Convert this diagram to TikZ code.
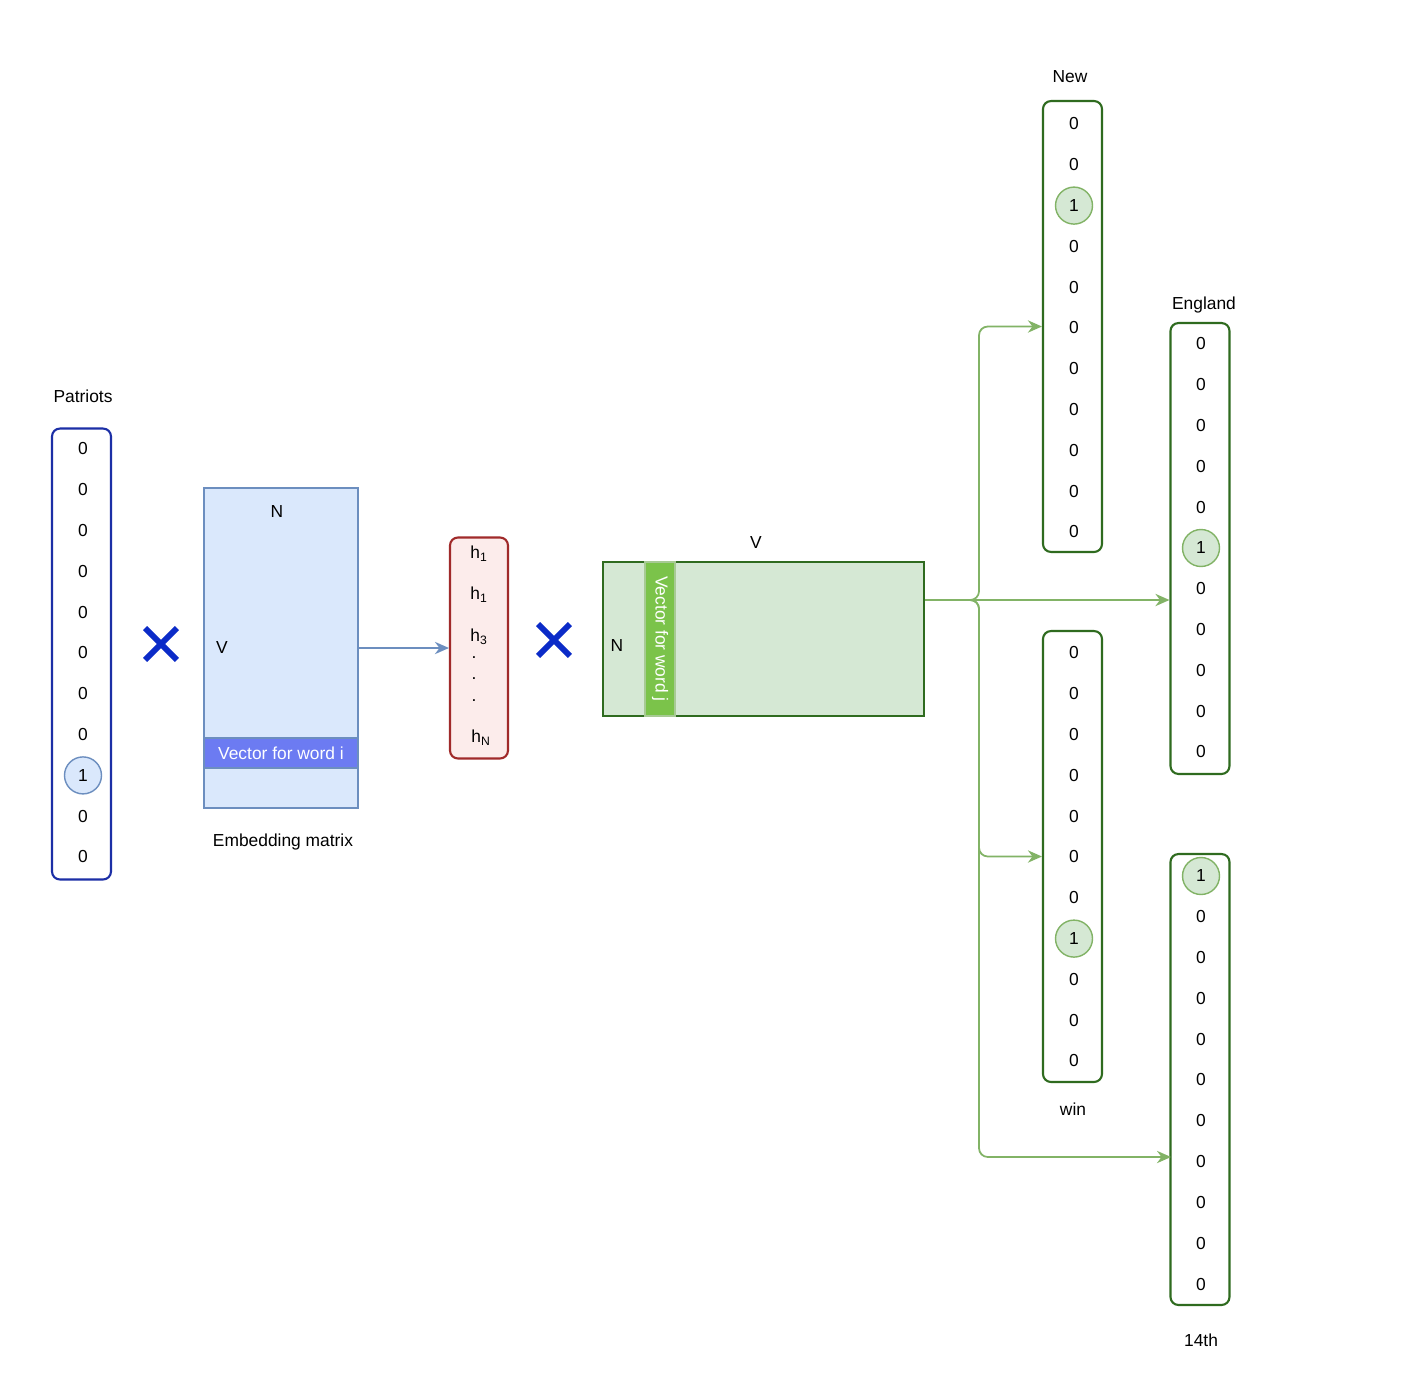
\documentclass[tikz,border=0pt]{standalone}
\usepackage{fontspec}
\setmainfont{Liberation Sans}
\usetikzlibrary{arrows.meta,positioning,shapes.misc}

\definecolor{patblue}{HTML}{1C2FA6}
\definecolor{xblue}{HTML}{0B2BC8}
\definecolor{embfill}{HTML}{DAE8FC}
\definecolor{embline}{HTML}{6C8EBF}
\definecolor{bandblue}{HTML}{6C7BF2}
\definecolor{hfill}{HTML}{FCECEB}
\definecolor{hline}{HTML}{A02A2A}
\definecolor{outfill}{HTML}{D5E8D4}
\definecolor{outgreen}{HTML}{2F6B1F}
\definecolor{bandgreen}{HTML}{7BC34A}
\definecolor{flowgreen}{HTML}{82B366}

\tikzset{
  vec/.style={draw, rounded corners=4.5pt, line width=1.2pt, minimum width=1.18cm, minimum height=9.02cm, inner sep=0pt},
  val/.style={inner sep=1pt},
  bluehot/.style={circle, draw=embline, fill=embfill, line width=0.8pt, minimum size=0.74cm, inner sep=0pt},
  greenhot/.style={circle, draw=flowgreen, fill=outfill, line width=0.8pt, minimum size=0.74cm, inner sep=0pt},
  timesmark/.style={cross out, draw=xblue, line width=3.3pt, minimum size=0.52cm, inner sep=0pt},
  flow/.style={->, draw=flowgreen, line width=1pt, rounded corners=5pt},
}

% one-hot vector: name, x, first y, index of the 1, style of the 1
\newcommand{\hotvec}[5]{%
  \foreach \i in {0,...,10} {
    \ifnum\i=#4\relax
      \node[#5] (#1-\i) at (#2,#3+40.8*\i) {1};
    \else
      \node[val] (#1-\i) at (#2,#3+40.8*\i) {0};
    \fi
  }%
}

\begin{document}
\begin{tikzpicture}[>={Stealth[length=8pt,width=7pt]}, thick, x=0.02cm, y=-0.02cm,
    font=\fontsize{9.9pt}{12pt}\selectfont]
    \fill[white] (0,0) rectangle (1426,1382);
    \useasboundingbox (0,0) rectangle (1426,1382);

    % input word
    \node[vec, draw=patblue] (pat) at (81.5,654) {};
    \node (patlabel) at (83,396) {Patriots};
    \hotvec{p}{83}{449}{8}{bluehot}

    \node[timesmark] (times1) at (161,644) {};

    % embedding matrix
    \node[draw=embline, fill=embfill, line width=1.2pt, minimum width=3.08cm, minimum height=6.4cm, inner sep=0pt] (emb) at (281,648) {};
    \node[draw=embline, fill=bandblue, text=white, line width=1.2pt, minimum width=3.08cm, minimum height=0.6cm, inner sep=0pt] (rowi) at (281,753) {Vector for word i};
    \node (embN) at (277,512) {N};
    \node (embV) at (222,648) {V};
    \node (emblabel) at (283,842) {Embedding matrix};

    % hidden vector
    \node[draw=hline, fill=hfill, rounded corners=4.5pt, line width=1.2pt, minimum width=1.16cm, minimum height=4.42cm, inner sep=0pt] (hvec) at (479,648) {};
    \node (h1) at (479,554) {h\textsubscript{1}};
    \node (h2) at (479,595) {h\textsubscript{1}};
    \node (h3) at (479,637) {h\textsubscript{3}};
    \foreach \y [count=\k] in {658,679,701}
        \node[inner sep=0pt] (dot\k) at (474,\y) {.};
    \node (hN) at (481,738) {h\textsubscript{N}};

    \draw[->, draw=embline, line width=1pt] (emb.east) -- (hvec.west);

    \node[timesmark] (times2) at (554,640) {};

    % context matrix
    \node[draw=outgreen, fill=outfill, line width=1.2pt, minimum width=6.42cm, minimum height=3.08cm, inner sep=0pt] (outm) at (763.5,639) {};
    \node[draw=flowgreen!70, fill=bandgreen, line width=1pt, minimum width=0.6cm, minimum height=3.08cm, inner sep=0pt] (colj) at (660,639) {};
    \node[text=white, rotate=-90] (coljtext) at (660,639) {Vector for word j};
    \node (outV) at (756,543) {V};
    \node (outN) at (617,646) {N};

    % output words
    \node[vec, draw=outgreen] (new) at (1072.5,326.5) {};
    \node (newlabel) at (1070,77) {New};
    \hotvec{n}{1074}{124}{2}{greenhot}

    \node[vec, draw=outgreen] (eng) at (1200,548.5) {};
    \node (englabel) at (1204,305) {England};
    \hotvec{e}{1201}{344}{5}{greenhot}

    \node[vec, draw=outgreen] (win) at (1072.5,856.5) {};
    \node (winlabel) at (1073,1109) {win};
    \hotvec{w}{1074}{653}{7}{greenhot}

    \node[vec, draw=outgreen] (last) at (1200,1079.5) {};
    \node (lastlabel) at (1201,1340) {14th};
    \hotvec{l}{1201}{876}{0}{greenhot}

    % branches to the context words
    \coordinate (split) at (979,600);
    \coordinate (in14) at (1171,1157);
    \draw[flow] (outm.east |- split) -- (split) |- (new.west);
    \draw[flow] (outm.east |- split) -- (eng.west |- split);
    \draw[flow] (outm.east |- split) -- (split) |- (win.west);
    \draw[flow] (outm.east |- split) -- (split) |- (in14);
\end{tikzpicture}
\end{document}
